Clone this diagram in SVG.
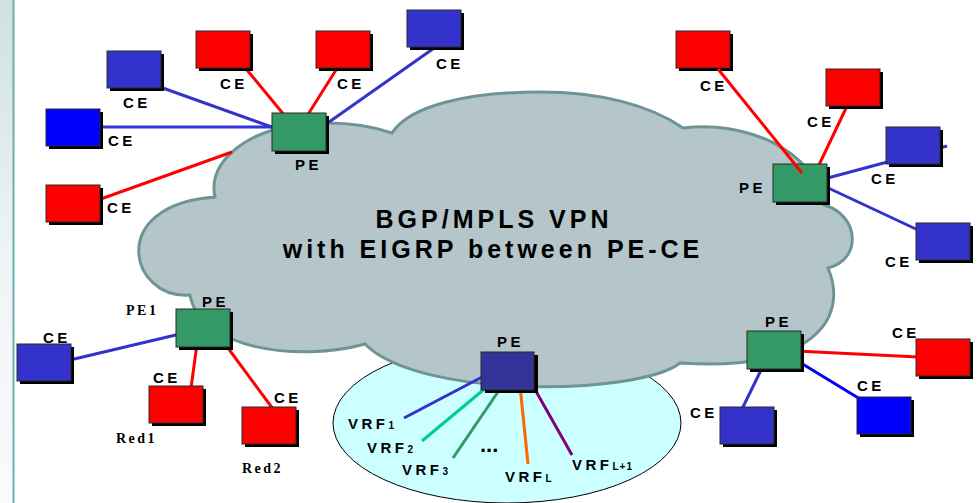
<svg xmlns="http://www.w3.org/2000/svg" width="979" height="503" viewBox="0 0 979 503">
<defs>
<linearGradient id="strip" x1="0" y1="0" x2="0" y2="1">
<stop offset="0" stop-color="#d0e0e0"/>
<stop offset="0.5" stop-color="#eef4f5"/>
<stop offset="1" stop-color="#fafbfb"/>
</linearGradient>
</defs>
<style>
.lbl{font-family:"Liberation Sans",Arial,sans-serif;font-weight:bold;font-size:15px;letter-spacing:3.5px;fill:#000}
.ser{font-family:"Liberation Serif","Times New Roman",serif;font-weight:bold;font-size:14px;letter-spacing:2.5px;fill:#000}
.title{font-family:"Liberation Sans",Arial,sans-serif;font-weight:bold;font-size:25px;letter-spacing:4px;fill:#000;text-anchor:middle}
.sh{fill:#000}
.box{stroke:#2a2a2a;stroke-width:1}
.red{fill:#ff0000}.blu{fill:#3333cc}.pb{fill:#0000ff}.grn{fill:#339966}.nav{fill:#333399}
.ln{stroke-width:3;fill:none}
.sub{font-size:10px;letter-spacing:1px}
</style>
<rect x="0" y="0" width="979" height="503" fill="#ffffff"/>
<rect x="0" y="0" width="13" height="503" fill="url(#strip)"/>
<line x1="13.5" y1="0" x2="13.5" y2="503" stroke="#6aaeae" stroke-width="2"/>

<g id="vrf-area">
<ellipse cx="507" cy="423" rx="174" ry="80" fill="#ccffff" stroke="#000" stroke-width="1"/>
</g>

<g id="cloud">
<path d="M215,197 C208,165 240,135 290,126 C330,120 365,124 392,133 C410,105 470,92 540,92 C600,92 650,105 683,128 C745,120 815,150 824,205 C860,215 862,260 828,268 C850,320 810,372 680,363 C640,395 420,400 365,344 C300,362 200,350 190,295 C130,300 105,205 215,197 Z" fill="#b4c6c9" stroke="#6e9494" stroke-width="3"/>
<text class="title" x="494" y="228">BGP/MPLS VPN</text>
<text class="title" x="493" y="258">with EIGRP between PE-CE</text>
</g>

<g id="connectors">
<line class="ln" stroke="#3333cc" x1="160" y1="87" x2="280" y2="130"/>
<line class="ln" stroke="#3333dd" x1="95" y1="127" x2="280" y2="127"/>
<line class="ln" stroke="#ff0000" x1="98" y1="200" x2="232" y2="152"/>
<line class="ln" stroke="#ff0000" x1="247" y1="70" x2="285" y2="116"/>
<line class="ln" stroke="#ff0000" x1="336" y1="70" x2="307" y2="116"/>
<line class="ln" stroke="#3333cc" x1="437" y1="46" x2="322" y2="127"/>
<line class="ln" stroke="#ff0000" x1="848" y1="104" x2="818" y2="167"/>
<line class="ln" stroke="#3333cc" x1="824" y1="179" x2="947" y2="146"/>
<line class="ln" stroke="#3333cc" x1="824" y1="186" x2="918" y2="230"/>
<line class="ln" stroke="#3333cc" x1="70" y1="360" x2="180" y2="334"/>
<line class="ln" stroke="#ff0000" x1="197" y1="344" x2="191" y2="388"/>
<line class="ln" stroke="#ff0000" x1="225" y1="344" x2="273" y2="409"/>
<line class="ln" stroke="#3333cc" x1="484" y1="376" x2="404" y2="418"/>
<line class="ln" stroke="#00cc99" x1="488" y1="386" x2="422" y2="441"/>
<line class="ln" stroke="#339966" x1="502" y1="386" x2="453" y2="458"/>
<line class="ln" stroke="#ff6600" x1="520" y1="386" x2="528" y2="464"/>
<line class="ln" stroke="#800080" x1="533" y1="386" x2="572" y2="455"/>
<line class="ln" stroke="#ff0000" x1="796" y1="351" x2="918" y2="357"/>
<line class="ln" stroke="#0000ff" x1="796" y1="360" x2="860" y2="399"/>
<line class="ln" stroke="#3333cc" x1="764" y1="364" x2="742" y2="409"/>
</g>

<g id="ce-tl1"><rect class="sh" x="110" y="54" width="54" height="37"/><rect class="box blu" x="107" y="51" width="54" height="37"/><text class="lbl" x="123" y="108">CE</text></g>
<g id="ce-tl2"><rect class="sh" x="49" y="112" width="54" height="37"/><rect class="box pb" x="46" y="109" width="54" height="37"/><text class="lbl" x="108" y="146">CE</text></g>
<g id="ce-tl3"><rect class="sh" x="49" y="188" width="54" height="37"/><rect class="box red" x="46" y="185" width="54" height="37"/><text class="lbl" x="107" y="213">CE</text></g>
<g id="ce-t1"><rect class="sh" x="199" y="34" width="54" height="37"/><rect class="box red" x="196" y="31" width="54" height="37"/><text class="lbl" x="220" y="89">CE</text></g>
<g id="ce-t2"><rect class="sh" x="319" y="34" width="54" height="37"/><rect class="box red" x="316" y="31" width="54" height="37"/><text class="lbl" x="337" y="89">CE</text></g>
<g id="pe-tl"><rect class="sh" x="275" y="116" width="54" height="38"/><rect class="box grn" x="272" y="113" width="54" height="38"/><text class="lbl" x="295" y="170">PE</text></g>
<g id="ce-t3"><rect class="sh" x="410" y="13" width="54" height="37"/><rect class="box blu" x="407" y="10" width="54" height="37"/><text class="lbl" x="436" y="69">CE</text></g>

<g id="ce-tr1"><rect class="sh" x="679" y="34" width="54" height="37"/><rect class="box red" x="676" y="31" width="54" height="37"/><text class="lbl" x="700" y="91">CE</text></g>
<g id="ce-tr2"><rect class="sh" x="829" y="72" width="54" height="37"/><rect class="box red" x="826" y="69" width="54" height="37"/><text class="lbl" x="807" y="127">CE</text></g>
<g id="pe-r"><rect class="sh" x="776" y="167" width="54" height="38"/><rect class="box grn" x="773" y="164" width="54" height="38"/><text class="lbl" x="739" y="193">PE</text></g>
<g id="ce-tr3"><rect class="sh" x="889" y="130" width="54" height="37"/><rect class="box blu" x="886" y="127" width="54" height="37"/><text class="lbl" x="871" y="184">CE</text></g>
<g id="ce-tr4"><rect class="sh" x="919" y="226" width="54" height="37"/><rect class="box blu" x="916" y="223" width="54" height="37"/><text class="lbl" x="885" y="267">CE</text></g>
<g id="connector-over-pe">
<line class="ln" stroke="#ff0000" x1="718" y1="69" x2="802" y2="173"/>
</g>

<g id="ce-bl1"><rect class="sh" x="20" y="347" width="54" height="37"/><rect class="box blu" x="17" y="344" width="54" height="37"/><text class="lbl" x="43" y="343">CE</text></g>
<g id="pe-bl"><rect class="sh" x="179" y="312" width="54" height="38"/><rect class="box grn" x="176" y="309" width="54" height="38"/><text class="lbl" x="202" y="307">PE</text><text class="ser" x="126" y="315">PE1</text></g>
<g id="ce-red1"><rect class="sh" x="152" y="389" width="54" height="37"/><rect class="box red" x="149" y="386" width="54" height="37"/><text class="lbl" x="153" y="383">CE</text><text class="ser" x="116" y="443">Red1</text></g>
<g id="ce-red2"><rect class="sh" x="245" y="410" width="54" height="37"/><rect class="box red" x="242" y="407" width="54" height="37"/><text class="lbl" x="274" y="403">CE</text><text class="ser" x="242" y="473">Red2</text></g>

<g id="pe-b"><rect class="sh" x="485" y="355" width="53" height="38"/><rect class="box nav" x="481" y="352" width="53" height="38"/><text class="lbl" x="497" y="347">PE</text></g>
<g id="vrf-labels">
<text class="lbl" x="348" y="429">VRF<tspan class="sub">1</tspan></text>
<text class="lbl" x="367" y="453">VRF<tspan class="sub">2</tspan></text>
<text class="lbl" x="402" y="475">VRF<tspan class="sub">3</tspan></text>
<text class="lbl" x="480" y="452" style="font-size:22px;letter-spacing:0px">...</text>
<text class="lbl" x="505" y="482">VRF<tspan class="sub">L</tspan></text>
<text class="lbl" x="572" y="470">VRF<tspan class="sub">L+1</tspan></text>
</g>

<g id="pe-br"><rect class="sh" x="750" y="334" width="54" height="38"/><rect class="box grn" x="747" y="331" width="54" height="38"/><text class="lbl" x="765" y="327">PE</text></g>
<g id="ce-br1"><rect class="sh" x="919" y="342" width="54" height="37"/><rect class="box red" x="916" y="339" width="54" height="37"/><text class="lbl" x="892" y="338">CE</text></g>
<g id="ce-br2"><rect class="sh" x="860" y="400" width="54" height="37"/><rect class="box pb" x="857" y="397" width="54" height="37"/><text class="lbl" x="857" y="391">CE</text></g>
<g id="ce-br3"><rect class="sh" x="723" y="410" width="54" height="37"/><rect class="box blu" x="720" y="407" width="54" height="37"/><text class="lbl" x="690" y="418">CE</text></g>
</svg>
